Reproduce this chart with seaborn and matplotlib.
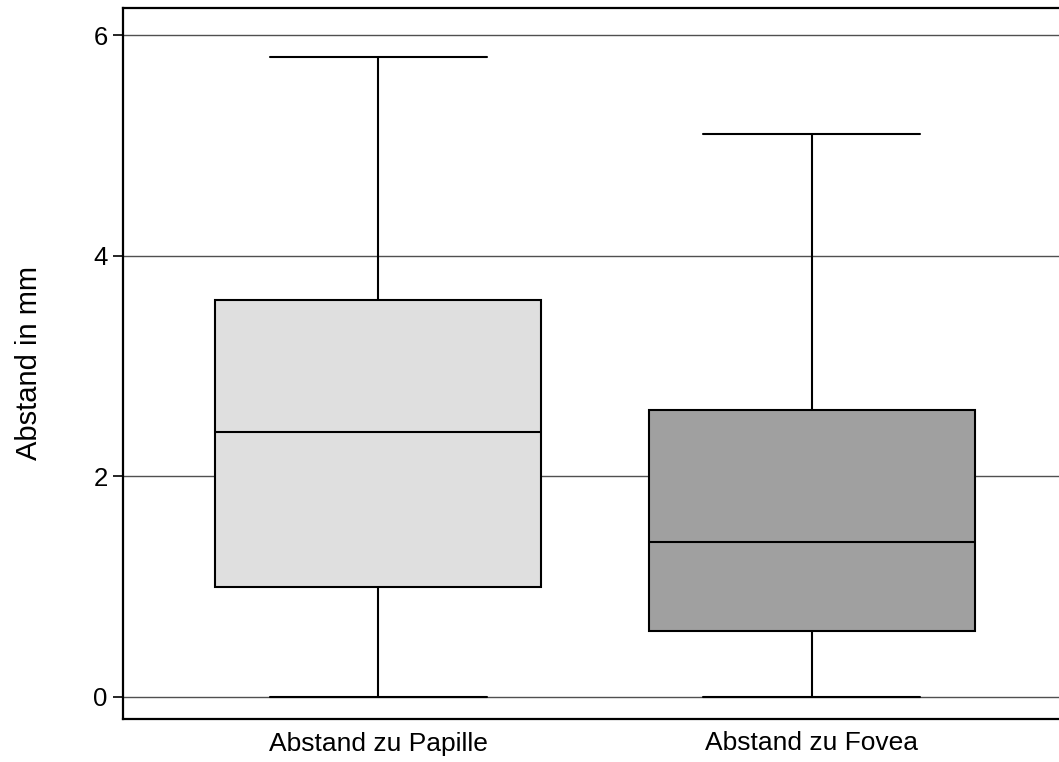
import numpy as np
import pandas as pd
import matplotlib
matplotlib.use("Agg")
import matplotlib.pyplot as plt
import seaborn as sns

# Five-number summaries (min, Q1, median, Q3, max) in mm
categories = ["Abstand zu Papille", "Abstand zu Fovea"]
papille = [0.0, 1.0, 2.4, 3.6, 5.8]
fovea = [0.0, 0.6, 1.4, 2.6, 5.1]
box_colors = ["#dfdfdf", "#a0a0a0"]
y_ticks = [0, 2, 4, 6]
y_label = "Abstand in mm"

df = pd.DataFrame({
    "Gruppe": [categories[0]] * len(papille) + [categories[1]] * len(fovea),
    "Abstand": papille + fovea,
})

sns.set_theme(style="white")
plt.rcParams["font.family"] = ["Liberation Sans", "DejaVu Sans"]
plt.rcParams["text.color"] = "black"
plt.rcParams["axes.labelcolor"] = "black"

fig = plt.figure(figsize=(10.59, 7.62), dpi=100)
ax = fig.add_axes([123 / 1059, 43 / 762, (1067 - 123) / 1059, (754 - 43) / 762])

ax.grid(axis="y", color="#505050", linewidth=1.0)
ax.set_axisbelow(True)

sns.boxplot(
    data=df, x="Gruppe", y="Abstand", hue="Gruppe", order=categories,
    hue_order=categories, palette=box_colors, width=0.75, whis=np.inf,
    linecolor="black", linewidth=1.5, legend=False, ax=ax,
    capwidths=0.5,
)

ax.set_xlim(-0.588, 1.588)
ax.set_ylim(-0.2, 6.245)
ax.set_yticks(y_ticks)
ax.set_yticklabels([str(t) for t in y_ticks])
ax.set_xlabel("")
ax.set_ylabel(y_label, fontsize=21, labelpad=36, color="black")

ax.tick_params(axis="y", which="major", left=True, length=7, width=1.2,
               pad=4, labelsize=18.5, color="black", labelcolor="black")
ax.tick_params(axis="x", length=0, pad=9, labelsize=19, labelcolor="black")

for side in ["left", "bottom", "top"]:
    ax.spines[side].set_visible(True)
    ax.spines[side].set_color("black")
    ax.spines[side].set_linewidth(1.6)
ax.spines["right"].set_visible(False)

fig.savefig("out.png", dpi=100, facecolor="white")
